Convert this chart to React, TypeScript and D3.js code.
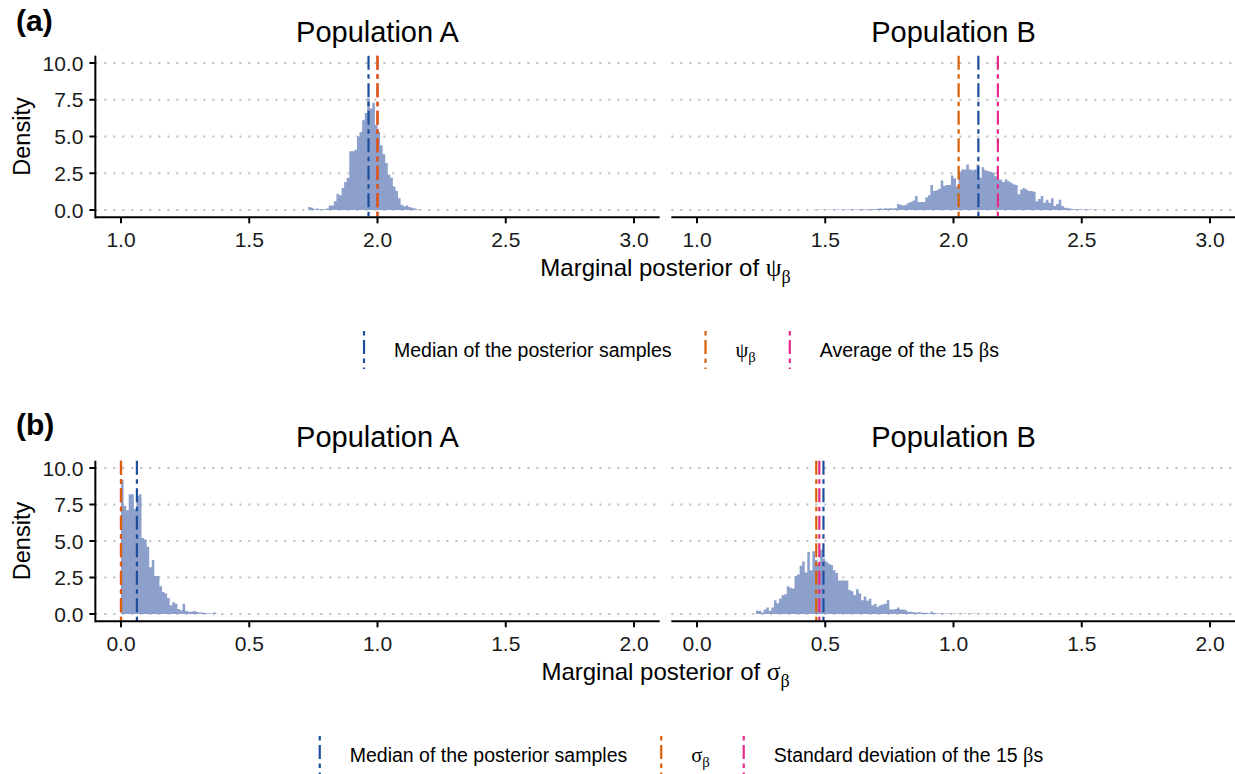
import React, { useEffect, useRef } from "react";
import * as d3 from "d3";

// Histogram bin width shared by every panel
const binWidth = 0.01;

// Marginal posterior of psi_beta, density per bin (bins start at *Start)
const psiStartA = 1.73;
const psiDensityA = [
  0.2, 0.15, 0.05, 0.1, 0.05, 0.05, 0.05, 0.1, 0.3, 0.3, 0.6, 1.1, 1.0, 1.5, 1.9, 2.2,
  4.0, 4.0, 4.1, 5.0, 5.3, 6.1, 6.6, 7.6, 6.9, 7.3, 5.8, 5.3, 4.4, 3.8, 3.2, 2.4, 2.2,
  1.6, 1.3, 0.8, 0.35, 0.25, 0.3, 0.2, 0.15, 0.1, 0.05,
];
const psiStartB = 1.45;
const psiDensityB = [
  0.02, 0, 0.03, 0.02, 0.03, 0, 0.03, 0.02, 0.03, 0.03, 0.04, 0.02, 0.03, 0.04, 0.03, 0.05,
  0.04, 0.03, 0.05, 0.05, 0.03, 0.05, 0.04, 0.06, 0.05, 0.08, 0.1, 0.08, 0.12, 0.1, 0.12,
  0.1, 0.12, 0.4, 0.35, 0.3, 0.35, 0.5, 0.55, 0.65, 0.95, 0.55, 0.55, 0.55, 0.85, 1.0, 1.7,
  1.3, 1.35, 1.45, 2.0, 1.65, 1.7, 1.7, 2.35, 2.15, 1.6, 2.6, 2.75, 2.75, 3.1, 2.75, 2.7,
  2.75, 3.1, 2.2, 2.9, 2.7, 2.65, 2.6, 2.55, 2.3, 2.1, 2.05, 1.9, 2.1, 1.95, 1.85, 1.75,
  1.7, 1.07, 1.4, 1.5, 1.4, 1.3, 1.3, 1.25, 0.6, 0.75, 0.95, 0.5, 0.7, 0.5, 0.8, 0.27, 0.4,
  0.7, 0.27, 0.15, 0.12, 0.1, 0.06, 0.05, 0.04, 0.05, 0.03, 0.04, 0.03, 0.03, 0.02, 0.02,
  0.01, 0.01, 0.01,
];

// Marginal posterior of sigma_beta
const sigmaStartA = 0.0;
const sigmaDensityA = [
  9.2, 7.4, 7.1, 8.2, 8.2, 7.2, 8.1, 8.2, 5.2, 5.1, 4.6, 3.2, 3.7, 2.6, 2.6, 1.9, 1.5, 1.4,
  1.1, 0.6, 0.8, 0.7, 0.35, 0.25, 0.7, 0.2, 0.15, 0.15, 0.2, 0.15, 0.1, 0.1, 0.08, 0.05,
  0.05, 0.02, 0.1, 0.02,
];
const sigmaStartB = 0.23;
const sigmaDensityB = [
  0.23, 0.23, 0.1, 0.3, 0.45, 0.23, 0.45, 0.95, 0.73, 1.07, 1.3, 1.35, 1.9, 1.8, 1.75, 2.6,
  2.7, 3.3, 3.6, 2.85, 4.25, 3.0, 4.3, 3.7, 3.4, 4.4, 3.8, 3.6, 3.45, 3.35, 3.0, 2.8, 2.3,
  2.3, 2.3, 2.3, 1.65, 1.55, 1.3, 1.7, 1.4, 0.95, 1.2, 0.9, 1.05, 0.6, 0.7, 0.5, 0.6, 0.65,
  0.7, 0.95, 0.3, 0.3, 0.35, 0.45, 0.3, 0.3, 0.25, 0.15, 0.15, 0.12, 0.1, 0.12, 0.1, 0.08,
  0.08, 0.05, 0.15, 0.08, 0.05, 0.04, 0.05, 0.03, 0.04, 0.03, 0.02, 0.03, 0.02, 0.03, 0.02,
  0.03, 0.02, 0.02, 0.03, 0.01, 0.02, 0.02, 0.01, 0.02, 0.01, 0.02, 0.01, 0.01, 0.02, 0.01,
];

const populations = ["Population A", "Population B"];

// Reference values per population (A, B)
const psiMedian = [1.965, 2.097];
const psiTrue = [2.0, 2.02];
const psiAverage = [2.0, 2.173];
const sigmaMedian = [0.062, 0.493];
const sigmaTrue = [0.0, 0.465];
const sigmaSd = [0.0, 0.477];

const psiDomain = [1, 3];
const sigmaDomain = [0, 2];
const psiTicks = [1.0, 1.5, 2.0, 2.5, 3.0];
const sigmaTicks = [0.0, 0.5, 1.0, 1.5, 2.0];
const densityTicks = [0, 2.5, 5, 7.5, 10];

const COLORS = {
  fill: "#8DA0CB",
  median: "#1C4E9C",
  truth: "#D95F02",
  sample: "#E7298A",
  grid: "#BDBDBD",
};

const SANS = "'Liberation Sans', Arial, sans-serif";
const GREEK = "'Liberation Serif', 'Times New Roman', serif";
const DASH = "14,4.5,4.5,4.5";

type Part = { t: string; greek?: boolean; sub?: boolean };

function richText(sel: any, parts: Part[], size: number) {
  let lowered = false;
  parts.forEach((p) => {
    const ts = sel.append("tspan").text(p.t);
    if (p.greek) ts.attr("font-family", GREEK);
    if (p.sub) {
      ts.attr("font-size", size * 0.75).attr("dy", size * 0.28);
      lowered = true;
    } else {
      if (p.greek) ts.attr("font-size", size * 1.05);
      if (lowered) {
        ts.attr("dy", -size * 0.28);
        lowered = false;
      }
    }
  });
}

export default function App() {
  const ref = useRef<SVGSVGElement>(null);

  useEffect(() => {
    const svg = d3.select(ref.current);
    svg.selectAll("*").remove();

    const panelX = [
      [95.35, 659.65],
      [671.35, 1235.65],
    ];

    const rows = [
      {
        tag: "(a)",
        tagY: 31,
        titleY: 42,
        top: 55.65,
        bottom: 217.35,
        domain: psiDomain,
        ticks: psiTicks,
        hist: [
          { start: psiStartA, dens: psiDensityA },
          { start: psiStartB, dens: psiDensityB },
        ],
        median: psiMedian,
        truth: psiTrue,
        sample: psiAverage,
        xTitle: [
          { t: "Marginal posterior of " },
          { t: "ψ", greek: true },
          { t: "β", greek: true, sub: true },
        ] as Part[],
        legendY: 350,
        legend: [
          { color: COLORS.median, parts: [{ t: "Median of the posterior samples" }] },
          {
            color: COLORS.truth,
            parts: [
              { t: "ψ", greek: true },
              { t: "β", greek: true, sub: true },
            ],
          },
          {
            color: COLORS.sample,
            parts: [{ t: "Average of the 15 " }, { t: "β", greek: true }, { t: "s" }],
          },
        ],
      },
      {
        tag: "(b)",
        tagY: 435,
        titleY: 447,
        top: 460.7,
        bottom: 621.3,
        domain: sigmaDomain,
        ticks: sigmaTicks,
        hist: [
          { start: sigmaStartA, dens: sigmaDensityA },
          { start: sigmaStartB, dens: sigmaDensityB },
        ],
        median: sigmaMedian,
        truth: sigmaTrue,
        sample: sigmaSd,
        xTitle: [
          { t: "Marginal posterior of " },
          { t: "σ", greek: true },
          { t: "β", greek: true, sub: true },
        ] as Part[],
        legendY: 755,
        legend: [
          { color: COLORS.median, parts: [{ t: "Median of the posterior samples" }] },
          {
            color: COLORS.truth,
            parts: [
              { t: "σ", greek: true },
              { t: "β", greek: true, sub: true },
            ],
          },
          {
            color: COLORS.sample,
            parts: [
              { t: "Standard deviation of the 15 " },
              { t: "β", greek: true },
              { t: "s" },
            ],
          },
        ],
      },
    ];

    rows.forEach((row) => {
      const g = svg.append("g");
      const span = row.domain[1] - row.domain[0];
      const y = d3
        .scaleLinear()
        .domain([-0.5, 10.5])
        .range([row.bottom, row.top]);

      // panel tag
      g.append("text")
        .attr("x", 16)
        .attr("y", row.tagY)
        .attr("font-family", SANS)
        .attr("font-weight", "bold")
        .attr("font-size", 30)
        .text(row.tag);

      row.hist.forEach((h, p) => {
        const x = d3
          .scaleLinear()
          .domain([row.domain[0] - span * 0.05, row.domain[1] + span * 0.05])
          .range(panelX[p]);
        const pg = g.append("g");

        // dotted horizontal grid
        pg.selectAll("line.grid")
          .data(densityTicks)
          .join("line")
          .attr("class", "grid")
          .attr("x1", panelX[p][0])
          .attr("x2", panelX[p][1])
          .attr("y1", (d) => y(d))
          .attr("y2", (d) => y(d))
          .attr("stroke", COLORS.grid)
          .attr("stroke-width", 2)
          .attr("stroke-dasharray", "2,7");

        // histogram as a stepped area
        const pts: [number, number][] = h.dens.map((d, i) => [h.start + i * binWidth, d]);
        pts.push([h.start + h.dens.length * binWidth, h.dens[h.dens.length - 1]]);
        const area = d3
          .area<[number, number]>()
          .x((d) => x(d[0]))
          .y0(y(0))
          .y1((d) => y(d[1]))
          .curve(d3.curveStepAfter);
        pg.append("path").attr("d", area(pts)).attr("fill", COLORS.fill);

        // reference lines
        const vlines = [
          { v: row.median[p], c: COLORS.median },
          { v: row.sample[p], c: COLORS.sample },
          { v: row.truth[p], c: COLORS.truth },
        ];
        pg.selectAll("line.vl")
          .data(vlines)
          .join("line")
          .attr("class", "vl")
          .attr("x1", (d) => x(d.v))
          .attr("x2", (d) => x(d.v))
          .attr("y1", row.top)
          .attr("y2", row.bottom)
          .attr("stroke", (d) => d.c)
          .attr("stroke-width", 2.2)
          .attr("stroke-dasharray", DASH);

        // x axis
        pg.append("line")
          .attr("x1", panelX[p][0])
          .attr("x2", panelX[p][1])
          .attr("y1", row.bottom)
          .attr("y2", row.bottom)
          .attr("stroke", "#000")
          .attr("stroke-width", 2);
        const xt = pg.selectAll("g.xt").data(row.ticks).join("g").attr("class", "xt");
        xt.append("line")
          .attr("x1", (d) => x(d))
          .attr("x2", (d) => x(d))
          .attr("y1", row.bottom)
          .attr("y2", row.bottom + 6)
          .attr("stroke", "#000")
          .attr("stroke-width", 2);
        xt.append("text")
          .attr("x", (d) => x(d))
          .attr("y", row.bottom + 30)
          .attr("text-anchor", "middle")
          .attr("font-family", SANS)
          .attr("font-size", 21)
          .attr("fill", "#1a1a1a")
          .text((d) => d3.format(".1f")(d));

        // facet title
        pg.append("text")
          .attr("x", (panelX[p][0] + panelX[p][1]) / 2)
          .attr("y", row.titleY)
          .attr("text-anchor", "middle")
          .attr("font-family", SANS)
          .attr("font-size", 29)
          .text(populations[p]);

        // y axis on the first panel only
        if (p === 0) {
          const x0 = panelX[0][0];
          pg.append("line")
            .attr("x1", x0)
            .attr("x2", x0)
            .attr("y1", row.top)
            .attr("y2", row.bottom + 1)
            .attr("stroke", "#000")
            .attr("stroke-width", 2);
          const yt = pg.selectAll("g.yt").data(densityTicks).join("g").attr("class", "yt");
          yt.append("line")
            .attr("x1", x0 - 6)
            .attr("x2", x0)
            .attr("y1", (d) => y(d))
            .attr("y2", (d) => y(d))
            .attr("stroke", "#000")
            .attr("stroke-width", 2);
          yt.append("text")
            .attr("x", x0 - 12)
            .attr("y", (d) => y(d))
            .attr("dy", "0.36em")
            .attr("text-anchor", "end")
            .attr("font-family", SANS)
            .attr("font-size", 21)
            .attr("fill", "#1a1a1a")
            .text((d) => d3.format(".1f")(d));
          pg.append("text")
            .attr(
              "transform",
              `translate(30,${(row.top + row.bottom) / 2}) rotate(-90)`
            )
            .attr("text-anchor", "middle")
            .attr("font-family", SANS)
            .attr("font-size", 23.5)
            .text("Density");
        }
      });

      // x axis title
      const xTitle = g
        .append("text")
        .attr("x", (panelX[0][0] + panelX[1][1]) / 2)
        .attr("y", row.bottom + 59)
        .attr("text-anchor", "middle")
        .attr("font-family", SANS)
        .attr("font-size", 24);
      richText(xTitle, row.xTitle, 24);

      // legend: dot-dash key then label, items centred as a group
      const lg = g.append("g");
      const keyGap = 30;
      const itemGap = 34;
      const items = row.legend.map((it) => {
        const t = lg
          .append("text")
          .attr("y", row.legendY + 7)
          .attr("font-family", SANS)
          .attr("font-size", 19.5);
        richText(t, it.parts, 19.5);
        const w = (t.node() as SVGTextElement).getComputedTextLength();
        return { t, w, color: it.color };
      });
      const total =
        items.reduce((s, it) => s + keyGap + it.w, 0) + itemGap * (items.length - 1);
      let cx = 681.5 - total / 2;
      items.forEach((it) => {
        lg.append("line")
          .attr("x1", cx)
          .attr("x2", cx)
          .attr("y1", row.legendY - 19)
          .attr("y2", row.legendY + 19)
          .attr("stroke", it.color)
          .attr("stroke-width", 2.2)
          .attr("stroke-dasharray", "4.5,4.5,14,4.5");
        it.t.attr("x", cx + keyGap);
        cx += keyGap + it.w + itemGap;
      });
    });
  }, []);

  return (
    <svg
      ref={ref}
      width={1235}
      height={774}
      style={{ position: "absolute", left: 0, top: 0, background: "#fff" }}
    />
  );
}
